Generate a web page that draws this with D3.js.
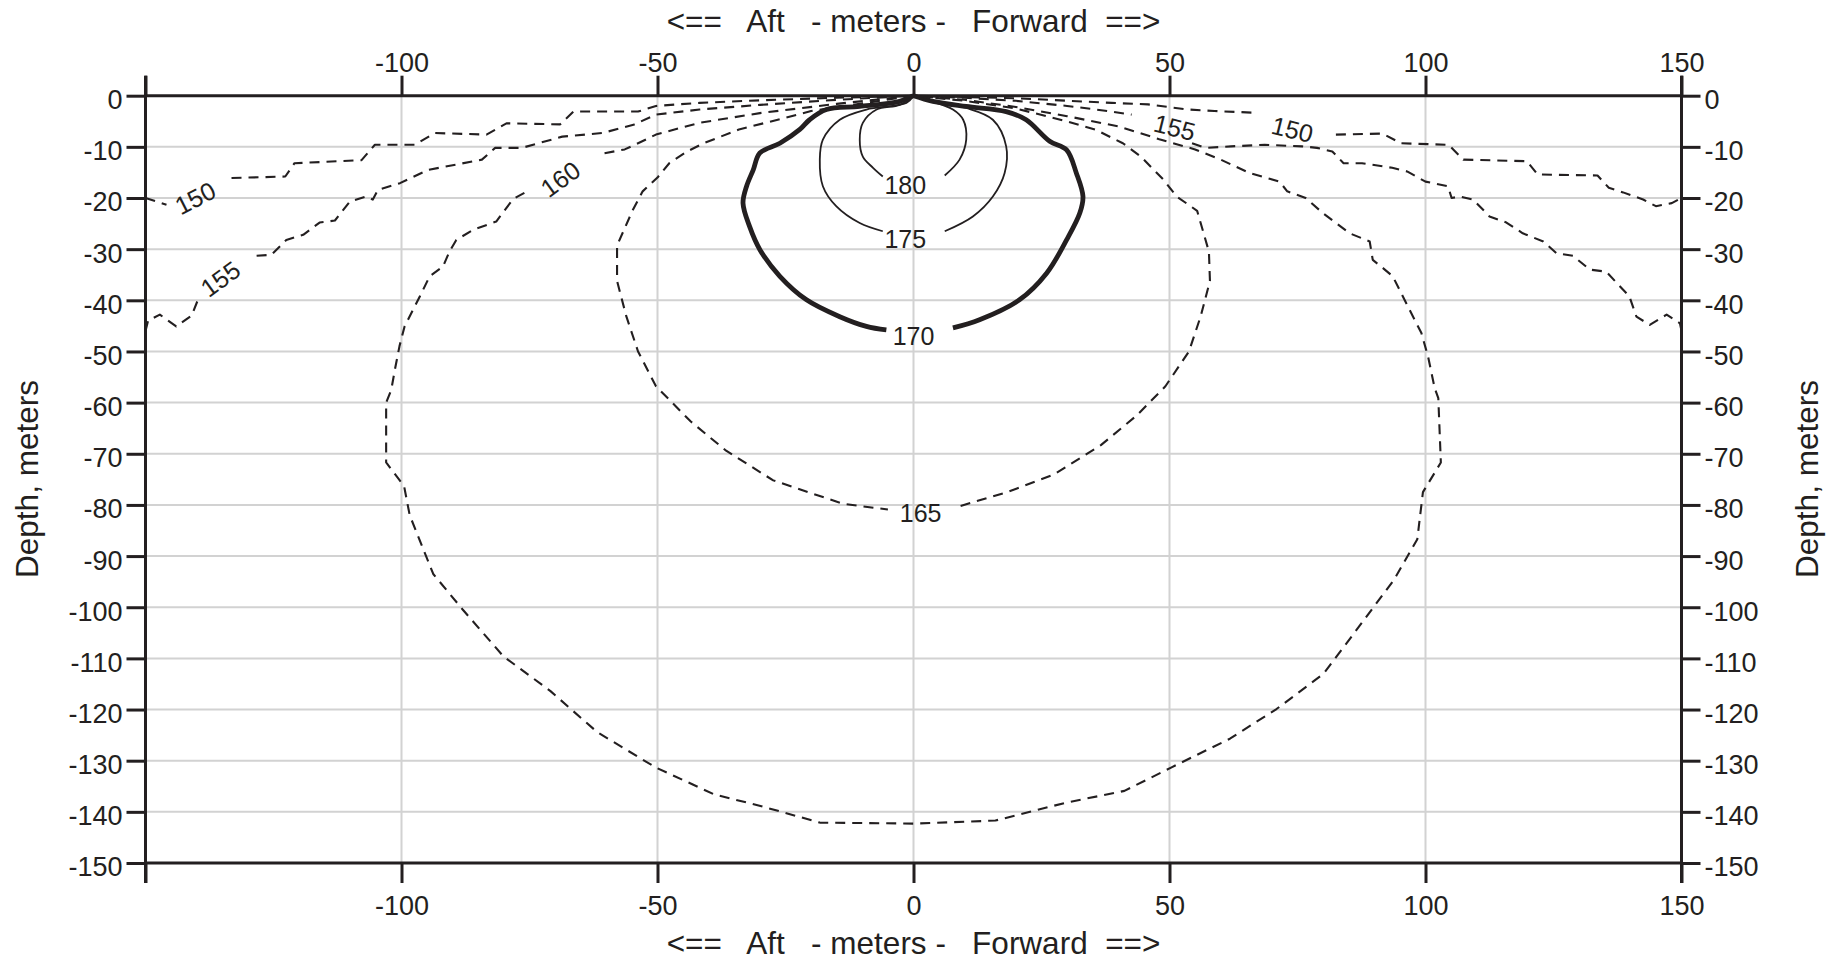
<!DOCTYPE html>
<html><head><meta charset="utf-8">
<script src="https://cdn.jsdelivr.net/npm/d3@7"></script>
<style>
body{margin:0;background:#fff}
text{font-family:"Liberation Sans",Arial,Helvetica,sans-serif;fill:#231f20}
</style>
</head><body>
<svg id="chart" width="1837" height="963"></svg>
<script>
// ---- data (x = meters aft(-)/forward(+), y = depth in meters) ----
const xTickValues = [-150, -100, -50, 0, 50, 100, 150];
const xTickLabels = ["", "-100", "-50", "0", "50", "100", "150"];
const yTickValues = [0,-10,-20,-30,-40,-50,-60,-70,-80,-90,-100,-110,-120,-130,-140,-150];
const xGrid = [-100, -50, 0, 50, 100];
const yGrid = [-10,-20,-30,-40,-50,-60,-70,-80,-90,-100,-110,-120,-130,-140];
const axisTitle = "<==   Aft   - meters -   Forward  ==>";
const depthTitle = "Depth, meters";

// contour 150 dB (null = gap for label)
const c150 = [[-150,-20],[-147.5,-20.8],[-145.9,-21.3],null,[-133.2,-16.1],[-122.7,-15.8],[-120.9,-13.2],[-107.8,-12.6],[-105.2,-9.6],[-97.4,-9.6],[-93.5,-7.3],[-83.4,-7.6],[-79.5,-5.4],[-69,-5.6],[-66.4,-3.1],[-53.8,-3.1],[-50.3,-2],[-41.8,-1.4],[-30,-0.9],[-15,-0.4],[0,0],[20,-0.5],[38.7,-1.4],[45.8,-1.7],[53.6,-2.7],[58.8,-3],[66,-3.3],null,[82.5,-7.6],[91.6,-7.4],[95.2,-9.3],[104.5,-9.6],[107.4,-12.5],[119.8,-12.8],[121.9,-15.4],[133.6,-15.6],[135.8,-18],[138.6,-18.9],[142.5,-20.3],[145,-21.6],[148.1,-21],[150,-20]];
const c155 = [[-150,-46],[-149.5,-44],[-147.2,-42.8],[-144,-45.1],[-141,-43],[-139.6,-39.5],null,[-128.3,-31.3],[-125.4,-31.1],[-122.5,-28.2],[-119.2,-27.2],[-116,-24.8],[-113,-24.4],[-110.1,-20.7],[-106.9,-19.7],[-105.6,-20.3],[-104.6,-18.4],[-100.3,-17.1],[-94.8,-14.5],[-84.3,-12.5],[-81.7,-10.2],[-76.5,-10.2],[-68.6,-8],[-60.8,-7.3],[-54.7,-5.7],[-50.3,-3.7],[-41.8,-2.7],[-30,-1.8],[-15,-0.8],[0,0],[10,-0.4],[20,-1],[30,-2],[38,-3],[42.6,-3.7],null,[54.4,-9.3],[57,-10.2],[62,-9.9],[68.6,-9.6],[75.9,-9.9],[78.8,-10.2],[81.8,-10.9],[84,-13.2],[87.6,-13.2],[93.5,-14.1],[96.4,-14.8],[100,-16.8],[104.4,-17.7],[105.1,-20],[106.7,-19.7],[109.3,-20.3],[112.5,-23.6],[115.8,-24.8],[119,-26.9],[123,-28.5],[125.6,-30.8],[128.8,-31.3],[132.1,-34],[135.3,-34.4],[138,-37.3],[139.8,-39.2],[141.2,-43.2],[143.8,-44.8],[147.1,-42.8],[149.7,-44.5],[150,-46]];
const c160 = [[0,0],[-15,-1.6],[-30,-3.4],[-41.8,-5.3],[-50.3,-7.6],[-53.8,-9.3],[-56.4,-10.5],[-61.6,-11.5],null,[-76,-19],[-78.2,-20.2],[-81.5,-24.6],[-86,-26.2],[-89.3,-28.2],[-90.6,-30.4],[-91.9,-33.4],[-94.5,-35.3],[-96.4,-39.2],[-99.4,-45.1],[-100.4,-49],[-101.3,-53.6],[-102,-57.5],[-103,-60],[-103,-71.7],[-99.5,-76.3],[-98.4,-82],[-93.8,-93.5],[-88.1,-100.4],[-80.1,-109.6],[-70.9,-116.4],[-61.8,-124.4],[-50.4,-131.3],[-38.9,-136.6],[-29.7,-138.9],[-18.3,-142.1],[0,-142.3],[16,-141.7],[29.8,-138.2],[41.2,-135.9],[50.4,-131.3],[61.8,-125.7],[70.9,-119.9],[80.1,-113],[87,-103.8],[93.8,-94.7],[98.4,-86.7],[99.5,-77.5],[103,-71.7],[102.5,-59.1],[101.8,-57.2],[100.5,-51],[99.2,-46.4],[95.9,-39.9],[93.6,-35.3],[91.7,-33.7],[89.7,-32.1],[89.1,-28.5],[85.2,-26.9],[80,-23],[76.6,-20],[73,-18.7],[71.5,-16.8],[65.6,-15.1],[60,-12.5],[55,-10.5],[48,-8.5],[40,-6],[30,-4],[20,-2.2],[10,-0.8],[0,0]];
const c165 = [[0,0],[-8,-1.2],[-20,-3],[-28.9,-5.3],[-34.1,-6.6],[-41,-9.3],[-44.2,-10.9],[-47.7,-13.2],[-50,-16],[-52.9,-18.7],[-54.9,-22.5],[-57.9,-29.3],[-57.9,-36.2],[-56.1,-43.1],[-53.8,-50],[-50.3,-56.8],[-43.5,-63.7],[-36.6,-69.4],[-27.4,-75.2],[-13.7,-79.8],[-5,-80.9],null,[9.2,-80.2],[18.3,-77.5],[27.5,-74],[36.6,-68.3],[43.5,-62.6],[49.2,-56.8],[53.8,-50],[56.1,-43.1],[57.9,-36.2],[57.7,-30.5],[55.4,-22.5],[51.4,-19.7],[48.8,-16.4],[44.4,-11.9],[40.9,-9.3],[35.7,-6.7],[29.9,-5],[20,-2.5],[10,-1],[0,0]];
const c170 = [[0,0],[-2.7,-1.1],[-10.5,-2.1],[-17,-2.7],[-20.3,-4.7],[-22.2,-6.6],[-26.1,-9.3],[-30,-11.2],[-31.3,-14.5],[-32.6,-17.7],[-33.3,-21],[-32,-25.6],[-30,-30.1],[-26.1,-35.3],[-20.9,-39.9],[-14.4,-43.2],[-9.2,-45.1],[-5.3,-45.8],null,[7.7,-45.4],[12.9,-43.8],[20.7,-39.9],[26,-34.7],[29.9,-28.2],[32.5,-22.9],[33.1,-19.7],[31.8,-15.1],[29.9,-10.6],[26.6,-8.9],[22,-4.7],[18.1,-3.1],[10.3,-2.1],[3.8,-1.1],[0,0]];
const c175 = [[0,0],[-1.4,-1.4],[-9.2,-2.7],[-14.4,-4.7],[-17.7,-8.6],[-18.3,-12.5],[-17.7,-17.7],[-15.1,-21.6],[-10.5,-24.9],[-6,-26.5],null,[6.1,-26.5],[11.6,-23.6],[15.5,-19.7],[17.8,-15.1],[18.1,-9.9],[15.5,-4.7],[10.3,-2.4],[3.8,-1.1],[0,0]];
const c180 = [[0,0],[-2.7,-1.8],[-7.2,-2.7],[-9.9,-5.3],[-10.5,-8.6],[-9.9,-11.9],[-7.9,-14.1],[-6,-15.8],null,[6.1,-15.6],[9,-12.5],[10.3,-8.6],[9.7,-4.7],[7.7,-2.7],[2.5,-0.8],[0,0]];

// contour labels: [text, x, depth, rotation]
const contourLabels = [
  ["150", -140.3, -20.0, -27],
  ["155", -135.4, -35.8, -36],
  ["160", -69, -16.3, -36],
  ["155", 51.0, -6.2, 14],
  ["150", 74.0, -6.6, 14],
  ["165", 1.4, -81.6, 0],
  ["170", 0, -47.0, 0],
  ["175", -1.6, -28.0, 0],
  ["180", -1.6, -17.4, 0]
];

// ---- drawing ----
const svg = d3.select("#chart");
const x = d3.scaleLinear().domain([-150, 150]).range([145.5, 1681.5]);
const y = d3.scaleLinear().domain([0, -150]).range([95.7, 863]);
const ink = "#231f20";
const fam = '"Liberation Sans",Arial,Helvetica,sans-serif';

// grid
svg.append("g").selectAll("line").data(xGrid).join("line")
  .attr("x1", d => x(d)).attr("x2", d => x(d)).attr("y1", y(0)).attr("y2", y(-150))
  .attr("stroke", "#d2d2d2").attr("stroke-width", 2);
svg.append("g").selectAll("line").data(yGrid).join("line")
  .attr("y1", d => y(d)).attr("y2", d => y(d)).attr("x1", x(-150)).attr("x2", x(150))
  .attr("stroke", "#d2d2d2").attr("stroke-width", 2);

// axes
function styleAxis(g) {
  g.select(".domain").remove();
  g.selectAll(".tick line").attr("stroke", ink).attr("stroke-width", 3);
  g.selectAll(".tick text").attr("fill", ink).style("font-size", "27px").style("font-family", fam);
}
const xFmt = d => xTickLabels[xTickValues.indexOf(d)];
const yFmt = d => String(d);
svg.append("g").attr("transform", `translate(0,${y(0)})`)
  .call(d3.axisTop(x).tickValues(xTickValues).tickFormat(xFmt).tickSize(20).tickPadding(4))
  .call(styleAxis);
svg.append("g").attr("transform", `translate(0,${y(-150)})`)
  .call(d3.axisBottom(x).tickValues(xTickValues).tickFormat(xFmt).tickSize(20).tickPadding(13))
  .call(styleAxis);
svg.append("g").attr("transform", `translate(${x(-150)},0)`)
  .call(d3.axisLeft(y).tickValues(yTickValues).tickFormat(yFmt).tickSize(19).tickPadding(4))
  .call(styleAxis)
  .selectAll(".tick text").attr("dy", "0.48em");
svg.append("g").attr("transform", `translate(${x(150)},0)`)
  .call(d3.axisRight(y).tickValues(yTickValues).tickFormat(yFmt).tickSize(19).tickPadding(4))
  .call(styleAxis)
  .selectAll(".tick text").attr("dy", "0.48em");

// frame
const frame = svg.append("g").attr("stroke", ink).attr("stroke-width", 3);
frame.append("line").attr("x1", x(-150)).attr("x2", x(150)).attr("y1", y(0)).attr("y2", y(0));
frame.append("line").attr("x1", x(-150)).attr("x2", x(150)).attr("y1", y(-150)).attr("y2", y(-150));
frame.append("line").attr("x1", x(-150)).attr("x2", x(-150)).attr("y1", y(0) - 20).attr("y2", y(-150) + 20);
frame.append("line").attr("x1", x(150)).attr("x2", x(150)).attr("y1", y(0) - 20).attr("y2", y(-150) + 20);

// contours
const line = d3.line().defined(d => d !== null).x(d => x(d[0])).y(d => y(d[1]));
const lineSmooth = d3.line().defined(d => d !== null).x(d => x(d[0])).y(d => y(d[1])).curve(d3.curveCatmullRom.alpha(0.5));
const cg = svg.append("g").attr("fill", "none").attr("stroke", ink).attr("stroke-linejoin", "round");
[c150, c155, c160, c165].forEach(c => {
  cg.append("path").attr("d", line(c)).attr("stroke-width", 2.1).attr("stroke-dasharray", "10,7");
});
cg.append("path").attr("d", lineSmooth(c170)).attr("stroke-width", 4.8);
cg.append("path").attr("d", lineSmooth(c175)).attr("stroke-width", 1.8);
cg.append("path").attr("d", lineSmooth(c180)).attr("stroke-width", 1.8);

// contour labels
svg.append("g").selectAll("text").data(contourLabels).join("text")
  .attr("transform", d => `translate(${x(d[1])},${y(d[2])}) rotate(${d[3]})`)
  .attr("text-anchor", "middle").attr("dy", "0.36em")
  .style("font-size", "25px").text(d => d[0]);

// titles
svg.append("text").attr("x", x(0)).attr("y", 32).attr("text-anchor", "middle")
  .attr("xml:space", "preserve").style("white-space", "pre").style("font-size", "31.5px").text(axisTitle);
svg.append("text").attr("x", x(0)).attr("y", 954).attr("text-anchor", "middle")
  .attr("xml:space", "preserve").style("white-space", "pre").style("font-size", "31.5px").text(axisTitle);
svg.append("text").attr("transform", `translate(38,479) rotate(-90)`).attr("text-anchor", "middle")
  .style("font-size", "31.5px").text(depthTitle);
svg.append("text").attr("transform", `translate(1818,479) rotate(-90)`).attr("text-anchor", "middle")
  .style("font-size", "31.5px").text(depthTitle);
</script>
</body></html>
